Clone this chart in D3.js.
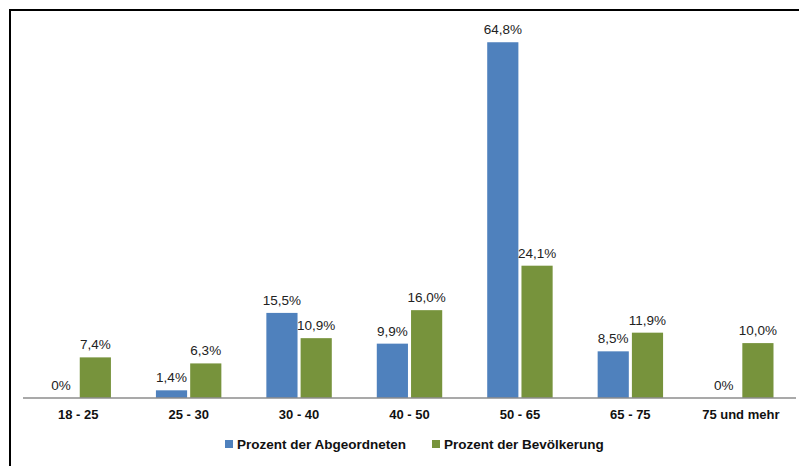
<!DOCTYPE html>
<html>
<head>
<meta charset="utf-8">
<script src="https://cdn.jsdelivr.net/npm/d3@7"></script>
<style>
  body { margin: 0; background: #fff; }
  svg { display: block; font-family: "Liberation Sans", Arial, sans-serif; }
</style>
</head>
<body>
<script>
"use strict";
const categories = ["18 - 25", "25 - 30", "30 - 40", "40 - 50", "50 - 65", "65 - 75", "75 und mehr"];
const seriesNames = ["Prozent der Abgeordneten", "Prozent der Bevölkerung"];
const abgeordnete = [0, 1.4, 15.5, 9.9, 64.8, 8.5, 0];
const bevoelkerung = [7.4, 6.3, 10.9, 16.0, 24.1, 11.9, 10.0];
const colors = ["#4F81BD", "#77933C"];

const size = {"width": 799, "height": 466};
const plot = {"left": 23, "right": 796, "base": 398};

const svg = d3.select("body").append("svg").attr("width", size.width).attr("height", size.height);

// frame (only top and left edge visible)
svg.append("path").attr("d", "M10,466 V10 H799").attr("fill", "none").attr("stroke", "#000").attr("stroke-width", 2);

const x = d3.scaleBand().domain(categories).range([plot.left, plot.right]).paddingInner(0).paddingOuter(0);
const inner = d3.scaleBand().domain([0, 1]).range([22.5, x.bandwidth() - 22.5]).paddingInner(0.09);
const y = d3.scaleLinear().domain([0, 70]).range([plot.base, plot.base - 70 * 5.49]);

const rows = categories.map((c, i) => ({"cat": c, "vals": [abgeordnete[i], bevoelkerung[i]]}));
const fmt = v => (v === 0 ? "0" : d3.format(".1f")(v).replace(".", ",")) + "%";

const groups = svg.selectAll("g.cat").data(rows).enter().append("g")
  .attr("class", "cat")
  .attr("transform", d => "translate(" + x(d.cat) + ",0)");

groups.selectAll("rect").data(d => d.vals).enter().append("rect")
  .attr("x", (d, i) => inner(i))
  .attr("width", inner.bandwidth())
  .attr("y", d => y(d))
  .attr("height", d => y(0) - y(d))
  .attr("fill", (d, i) => colors[i]);

groups.selectAll("text").data(d => d.vals).enter().append("text")
  .attr("x", (d, i) => inner(i) + inner.bandwidth() / 2)
  .attr("y", d => y(d) - 8)
  .attr("text-anchor", "middle")
  .attr("font-size", 13.5)
  .attr("fill", "#222")
  .text(d => fmt(d));

const xAxis = d3.axisBottom(x).tickSize(0).tickPadding(12);
const ax = svg.append("g").attr("transform", "translate(0," + plot.base + ")").call(xAxis);
ax.select(".domain").attr("stroke", "#8c8c8c").attr("stroke-width", 1.5).attr("d", "M" + plot.left + ",0H" + plot.right);
ax.selectAll("text").attr("font-size", 13).attr("font-weight", "bold").attr("fill", "#111")
  .attr("font-family", "Liberation Sans, Arial, sans-serif");

const legendX = [225, 432];
const legend = svg.selectAll("g.leg").data(seriesNames).enter().append("g")
  .attr("class", "leg")
  .attr("transform", (d, i) => "translate(" + legendX[i] + ",440)");
legend.append("rect").attr("width", 8).attr("height", 8).attr("fill", (d, i) => colors[i]);
legend.append("text").attr("x", 12).attr("y", 8.5)
  .attr("font-size", 13.5).attr("font-weight", "bold").attr("fill", "#111")
  .text(d => d);
</script>
</body>
</html>
